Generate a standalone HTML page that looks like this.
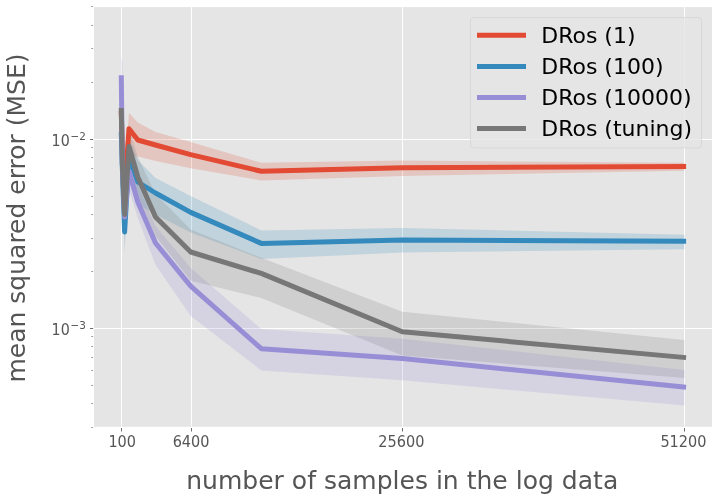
<!DOCTYPE html>
<html lang="en"><head><meta charset="utf-8"><title>MSE vs number of samples</title>
<style>html,body{margin:0;padding:0;background:#fff;}body{width:718px;height:500px;overflow:hidden;}svg{display:block;}text{font-family:"DejaVu Sans","Liberation Sans",sans-serif;}</style></head><body>
<svg width="718" height="500" viewBox="0 0 718 500">
<rect x="0" y="0" width="718" height="500" fill="#ffffff"/>
<rect x="94" y="7.1" width="618" height="419.7" fill="#E5E5E5"/>
<g stroke="#ffffff" stroke-width="1" fill="none">
<line x1="121.5" y1="7.1" x2="121.5" y2="426.8"/>
<line x1="191.5" y1="7.1" x2="191.5" y2="426.8"/>
<line x1="402.5" y1="7.1" x2="402.5" y2="426.8"/>
<line x1="684.5" y1="7.1" x2="684.5" y2="426.8"/>
<line x1="94" y1="139.5" x2="712" y2="139.5"/>
<line x1="94" y1="328.5" x2="712" y2="328.5"/>
</g>
<defs><clipPath id="axclip"><rect x="94" y="7.1" width="618" height="419.7"/></clipPath></defs>
<g clip-path="url(#axclip)">
<polygon points="121.3,100.0 122.4,125.0 124.6,165.0 129.0,113.0 137.8,122.4 155.5,132.0 190.7,142.0 261.3,162.8 402.3,160.6 684.4,162.8 684.4,170.7 402.3,176.0 261.3,180.5 190.7,168.2 155.5,161.0 137.8,156.5 129.0,157.0 124.6,205.0 122.4,158.0 121.3,128.0" fill="#E24A33" fill-opacity="0.2"/>
<polygon points="121.3,120.0 122.4,155.0 124.6,215.0 129.0,139.0 137.8,160.0 155.5,178.0 190.7,196.0 261.3,230.4 402.3,228.0 684.4,234.8 684.4,249.2 402.3,252.6 261.3,258.9 190.7,232.5 155.5,214.5 137.8,204.0 129.0,176.0 124.6,252.0 122.4,188.0 121.3,150.0" fill="#348ABD" fill-opacity="0.2"/>
<polygon points="121.3,57.0 122.4,62.0 124.6,200.0 129.0,155.0 137.8,185.0 155.5,226.0 190.7,268.0 261.3,329.0 402.3,338.7 684.4,370.0 684.4,405.6 402.3,380.2 261.3,370.4 190.7,316.0 155.5,264.8 137.8,218.0 129.0,190.0 124.6,238.0 122.4,170.0 121.3,105.0" fill="#988ED5" fill-opacity="0.2"/>
<polygon points="121.3,95.0 122.4,135.0 124.6,198.0 129.0,127.0 137.8,157.0 155.5,194.0 190.7,229.6 261.3,257.8 402.3,311.7 684.4,340.0 684.4,378.0 402.3,355.5 261.3,298.0 190.7,280.8 155.5,236.0 137.8,197.0 129.0,166.0 124.6,232.0 122.4,168.0 121.3,128.0" fill="#777777" fill-opacity="0.2"/>
<polyline points="121.3,113.5 122.4,150.0 124.6,192.0 129.0,128.7 137.8,140.0 155.5,145.0 190.7,154.6 261.3,171.3 402.3,167.8 683.6,166.4" fill="none" stroke="#E24A33" stroke-width="5" stroke-linejoin="round" stroke-linecap="square"/>
<polyline points="121.3,134.5 122.4,170.0 124.6,232.0 129.0,157.0 137.8,182.0 155.5,193.0 190.7,212.4 261.3,243.4 402.3,240.0 683.6,241.3" fill="none" stroke="#348ABD" stroke-width="5" stroke-linejoin="round" stroke-linecap="square"/>
<polyline points="121.3,77.8 122.4,165.0 124.6,217.0 129.0,171.0 137.8,202.0 155.5,243.0 190.7,286.2 261.3,348.7 402.3,358.6 683.6,387.0" fill="none" stroke="#988ED5" stroke-width="5" stroke-linejoin="round" stroke-linecap="square"/>
<polyline points="121.3,110.5 122.4,165.0 124.6,214.5 129.0,146.5 137.8,177.0 155.5,217.0 190.7,252.0 261.3,273.4 402.3,331.8 683.6,357.4" fill="none" stroke="#777777" stroke-width="5" stroke-linejoin="round" stroke-linecap="square"/>
</g>
<g stroke="#555555" stroke-width="1" fill="none" stroke-opacity="0.85">
<line x1="121.5" y1="428" x2="121.5" y2="431.5"/>
<line x1="191.5" y1="428" x2="191.5" y2="431.5"/>
<line x1="402.5" y1="428" x2="402.5" y2="431.5"/>
<line x1="684.5" y1="428" x2="684.5" y2="431.5"/>
<line x1="90" y1="139.5" x2="93.2" y2="139.5"/>
<line x1="90" y1="328.5" x2="93.2" y2="328.5"/>
<line x1="91.3" y1="427.5" x2="93.1" y2="427.5" stroke-opacity="0.6"/>
<line x1="91.3" y1="403.5" x2="93.1" y2="403.5" stroke-opacity="0.6"/>
<line x1="91.3" y1="385.5" x2="93.1" y2="385.5" stroke-opacity="0.6"/>
<line x1="91.3" y1="370.5" x2="93.1" y2="370.5" stroke-opacity="0.6"/>
<line x1="91.3" y1="357.5" x2="93.1" y2="357.5" stroke-opacity="0.6"/>
<line x1="91.3" y1="346.5" x2="93.1" y2="346.5" stroke-opacity="0.6"/>
<line x1="91.3" y1="336.5" x2="93.1" y2="336.5" stroke-opacity="0.6"/>
<line x1="91.3" y1="271.5" x2="93.1" y2="271.5" stroke-opacity="0.6"/>
<line x1="91.3" y1="238.5" x2="93.1" y2="238.5" stroke-opacity="0.6"/>
<line x1="91.3" y1="214.5" x2="93.1" y2="214.5" stroke-opacity="0.6"/>
<line x1="91.3" y1="196.5" x2="93.1" y2="196.5" stroke-opacity="0.6"/>
<line x1="91.3" y1="181.5" x2="93.1" y2="181.5" stroke-opacity="0.6"/>
<line x1="91.3" y1="168.5" x2="93.1" y2="168.5" stroke-opacity="0.6"/>
<line x1="91.3" y1="157.5" x2="93.1" y2="157.5" stroke-opacity="0.6"/>
<line x1="91.3" y1="147.5" x2="93.1" y2="147.5" stroke-opacity="0.6"/>
<line x1="91.3" y1="82.5" x2="93.1" y2="82.5" stroke-opacity="0.6"/>
<line x1="91.3" y1="48.5" x2="93.1" y2="48.5" stroke-opacity="0.6"/>
<line x1="91.3" y1="25.5" x2="93.1" y2="25.5" stroke-opacity="0.6"/>
<line x1="91.3" y1="6.5" x2="93.1" y2="6.5" stroke-opacity="0.6"/>
</g>
<g fill="#555555" font-size="16px">
<text transform="translate(122.2,447) scale(0.905,1)" text-anchor="middle">100</text>
<text transform="translate(191.05,447) scale(0.905,1)" text-anchor="middle">6400</text>
<text transform="translate(401.35,447) scale(0.905,1)" text-anchor="middle">25600</text>
<text transform="translate(683.4,447) scale(0.905,1)" text-anchor="middle">51200</text>
<text transform="translate(51.6,145.9) scale(0.89,1)">10</text>
<text transform="translate(70.45,139.8) scale(0.93,1)" font-size="11.2px">−2</text>
<text transform="translate(51.6,334.9) scale(0.89,1)">10</text>
<text transform="translate(70.45,328.8) scale(0.93,1)" font-size="11.2px">−3</text>
</g>
<text x="402.2" y="488.9" text-anchor="middle" font-size="25.04px" fill="#555555">number of samples in the log data</text>
<text transform="translate(25,218) rotate(-90)" text-anchor="middle" font-size="25px" fill="#555555">mean squared error (MSE)</text>
<rect x="470.5" y="17.5" width="231" height="130.4" rx="3.2" ry="3.2" fill="#E5E5E5" fill-opacity="0.8" stroke="#cccccc" stroke-opacity="0.5" stroke-width="1"/>
<line x1="479.5" y1="35.3" x2="523.5" y2="35.3" stroke="#E24A33" stroke-width="5" stroke-linecap="square"/>
<text x="541.2" y="43.1" font-size="22px" fill="#000000">DRos (1)</text>
<line x1="479.5" y1="66.4" x2="523.5" y2="66.4" stroke="#348ABD" stroke-width="5" stroke-linecap="square"/>
<text x="541.2" y="74.2" font-size="22px" fill="#000000">DRos (100)</text>
<line x1="479.5" y1="97.5" x2="523.5" y2="97.5" stroke="#988ED5" stroke-width="5" stroke-linecap="square"/>
<text x="541.2" y="105.3" font-size="22px" fill="#000000">DRos (10000)</text>
<line x1="479.5" y1="128.6" x2="523.5" y2="128.6" stroke="#777777" stroke-width="5" stroke-linecap="square"/>
<text x="541.2" y="136.4" font-size="22px" fill="#000000">DRos (tuning)</text>
</svg></body></html>
